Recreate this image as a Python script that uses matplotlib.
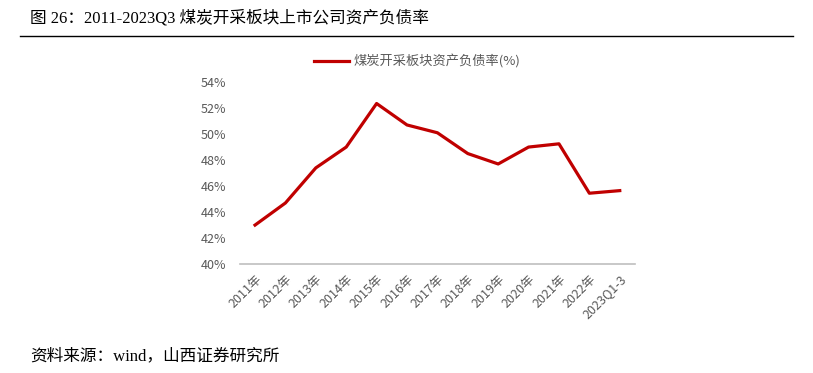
import matplotlib.pyplot as plt
from matplotlib.ticker import FuncFormatter

plt.rcParams['font.family'] = ['Noto Sans CJK SC', 'DejaVu Sans']

years = ['2011年', '2012年', '2013年', '2014年', '2015年', '2016年', '2017年',
         '2018年', '2019年', '2020年', '2021年', '2022年', '2023Q1-3']
debt_ratio = [43.0, 44.7, 47.4, 49.0, 52.35, 50.7, 50.1, 48.5, 47.7, 49.0, 49.25, 45.45, 45.65]

fig = plt.figure(figsize=(8.13, 3.73), dpi=100)
ax = fig.add_axes([0.295, 0.292, 0.486, 0.488])

x = list(range(len(years)))
ax.plot(x, debt_ratio, color='#C00000', linewidth=2.3, label='煤炭开采板块资产负债率(%)')

ax.set_xlim(-0.5, len(years) - 0.5)
ax.set_ylim(40, 54)
ax.set_yticks(range(40, 55, 2))
ax.yaxis.set_major_formatter(FuncFormatter(lambda v, p: f'{v:.0f}%'))
ax.set_xticks(x)
ax.set_xticklabels(years, rotation=45, ha='right', rotation_mode='anchor')

for s in ['top', 'right', 'left']:
    ax.spines[s].set_visible(False)
ax.spines['bottom'].set_color('#BFBFBF')
ax.spines['bottom'].set_linewidth(1.2)
ax.tick_params(length=0, colors='#595959', labelsize=9)
ax.tick_params(axis='y', pad=10)
ax.tick_params(axis='x', pad=6)

leg = ax.legend(loc='lower center', bbox_to_anchor=(0.45, 1.01), frameon=False,
                fontsize=9.5, handlelength=2.6, handletextpad=0.4)
for t in leg.get_texts():
    t.set_color('#595959')

fig.text(0.037, 0.95, '图 26：2011-2023Q3 煤炭开采板块上市公司资产负债率',
         fontsize=12, va='center', family=['Liberation Serif', 'Noto Sans CJK SC'])
fig.add_artist(plt.Line2D([0.025, 0.975], [0.903, 0.903], color='black', linewidth=1.0))
fig.text(0.037, 0.045, '资料来源：wind，山西证券研究所', fontsize=12, va='center',
         family=['Liberation Serif', 'Noto Sans CJK SC'])

fig.savefig('out.png', dpi=100)
